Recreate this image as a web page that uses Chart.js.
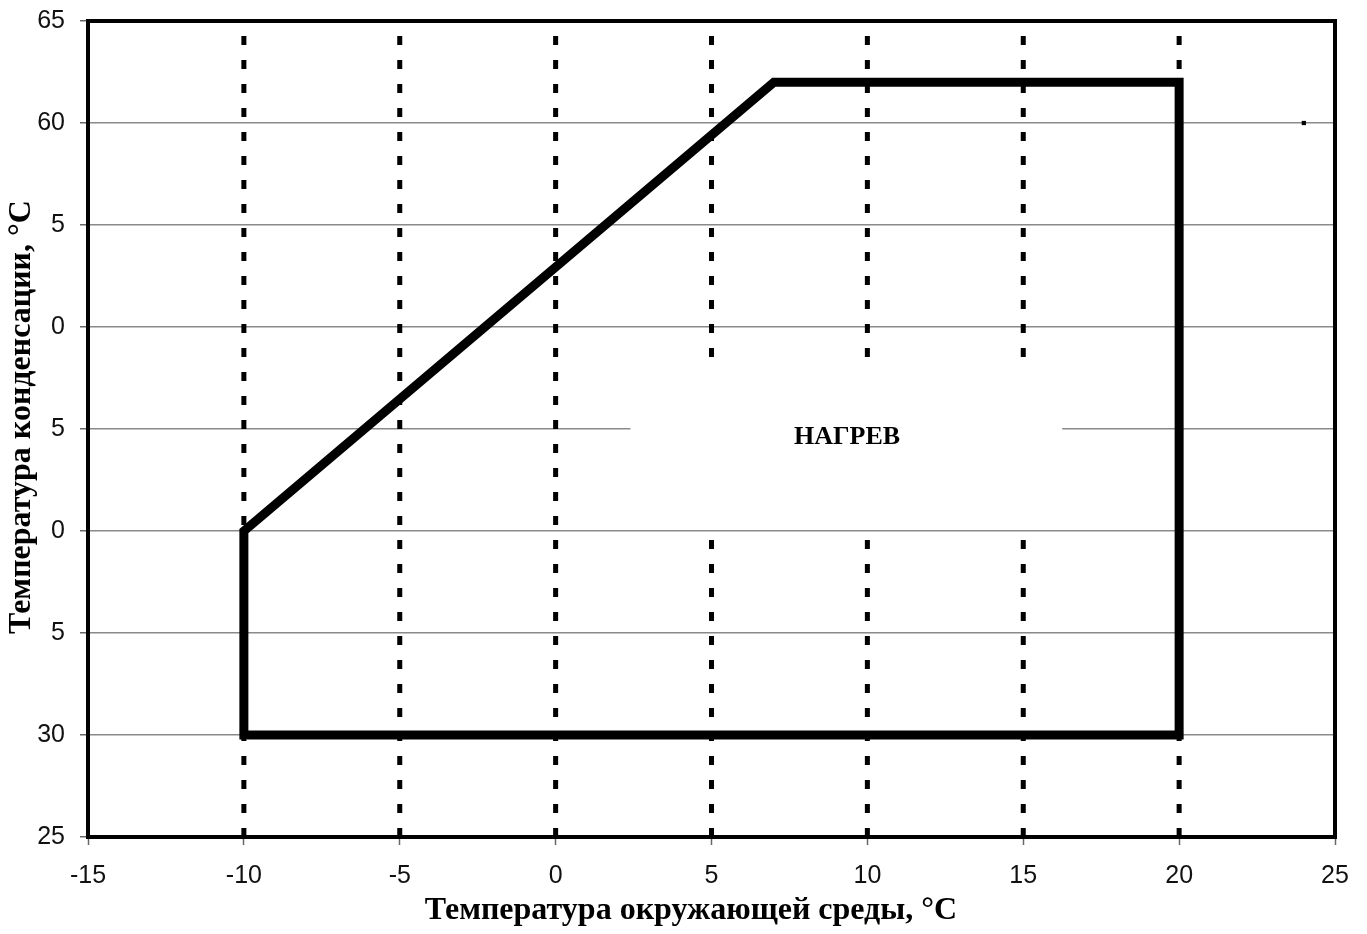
<!DOCTYPE html>
<html>
<head>
  <title>Нагрев</title>
  <script src="https://cdn.jsdelivr.net/npm/chart.js"></script>
  <style>
    body { margin: 0; background: #fff; }
    #wrap { width: 1367px; height: 934px; }
  </style>
</head>
<body>
  <div id="wrap"><canvas id="chart"></canvas></div>

  <script>
    // axis labels as printed on the original (the tens digit is lost on several of them)
    const yTickLabels = { 25: '25', 30: '30', 35: '5', 40: '0', 45: '5', 50: '0', 55: '5', 60: '60', 65: '65' };
    const guideX = [-10, -5, 0, 5, 10, 15, 20];
    // operating envelope, heating mode
    const envelopeX = [-10, -10, 7, 20, 20, -10];
    const envelopeY = [30, 40, 62, 62, 30, 30];
    const markX = [24];
    const markY = [60];
    const zoneLabel = 'НАГРЕВ';
    const xTitle = 'Температура окружающей среды, °С';
    const yTitle = 'Температура конденсации, °С';

    const serif = '"Liberation Serif", "Times New Roman", serif';
    const sans = '"Liberation Sans", Arial, sans-serif';

    const datasets = [];
    datasets.push({
      data: envelopeX.map((x, i) => ({ x, y: envelopeY[i] })),
      showLine: true,
      borderColor: '#000',
      borderWidth: 9,
      borderJoinStyle: 'miter',
      borderCapStyle: 'square',
      pointRadius: 0,
      tension: 0,
      order: 0
    });
    datasets.push({
      data: markX.map((x, i) => ({ x, y: markY[i] })),
      pointStyle: 'rect',
      pointRadius: 3,
      backgroundColor: '#000',
      borderColor: '#000',
      borderWidth: 0,
      order: 0
    });
    guideX.forEach(x => {
      datasets.push({
        data: [{ x, y: 25 }, { x, y: 65 }],
        showLine: true,
        borderColor: '#000',
        borderWidth: 5,
        borderDash: [9, 15],
        pointRadius: 0,
        order: 2
      });
    });

    const overlay = {
      id: 'overlay',
      afterDatasetsDraw(chart) {
        const c = chart.ctx, xs = chart.scales.x, ys = chart.scales.y;
        // white label box over the grid
        const x1 = xs.getPixelForValue(2.4), x2 = xs.getPixelForValue(16.25);
        const y1 = ys.getPixelForValue(48), y2 = ys.getPixelForValue(40.2);
        c.save();
        c.fillStyle = '#fff';
        c.fillRect(x1, y1, x2 - x1, y2 - y1);
        c.fillStyle = '#000';
        c.font = 'bold 26px ' + serif;
        c.textAlign = 'center';
        c.textBaseline = 'middle';
        c.fillText(zoneLabel, xs.getPixelForValue(9.35), ys.getPixelForValue(44.6));
        c.restore();
      },
      afterDraw(chart) {
        const c = chart.ctx, a = chart.chartArea;
        c.save();
        c.strokeStyle = '#000';
        c.lineWidth = 4;
        c.strokeRect(a.left, a.top, a.right - a.left, a.bottom - a.top);
        c.fillStyle = '#000';
        c.font = 'bold 32px ' + serif;
        c.textAlign = 'center';
        c.textBaseline = 'middle';
        c.fillText(xTitle, 691, 911);
        c.translate(22, 417);
        c.rotate(-Math.PI / 2);
        c.fillText(yTitle, 0, 0);
        c.restore();
      }
    };

    new Chart(document.getElementById('chart'), {
      type: 'scatter',
      data: { datasets },
      plugins: [overlay],
      options: {
        responsive: true,
        maintainAspectRatio: false,
        animation: false,
        layout: { padding: { top: 21, right: 32, left: 0, bottom: 0 } },
        plugins: { legend: { display: false }, tooltip: { enabled: false } },
        scales: {
          x: {
            type: 'linear',
            min: -15,
            max: 25,
            ticks: { stepSize: 5, padding: 16, color: '#111', font: { family: sans, size: 25 } },
            grid: { drawOnChartArea: false, tickLength: 8, tickColor: '#666', tickWidth: 1.5 },
            border: { display: false },
            afterFit(s) { s.height = 97; s.paddingLeft = 0; s.paddingRight = 0; }
          },
          y: {
            type: 'linear',
            min: 25,
            max: 65,
            ticks: {
              stepSize: 5,
              padding: 15,
              color: '#111',
              font: { family: sans, size: 25 },
              callback: v => yTickLabels[v]
            },
            grid: { color: '#8a8a8a', lineWidth: 1.5, tickLength: 8, tickColor: '#666', tickWidth: 1.5 },
            border: { display: false },
            afterFit(s) { s.width = 88; s.paddingTop = 0; s.paddingBottom = 0; }
          }
        }
      }
    });
  </script>
</body>
</html>
